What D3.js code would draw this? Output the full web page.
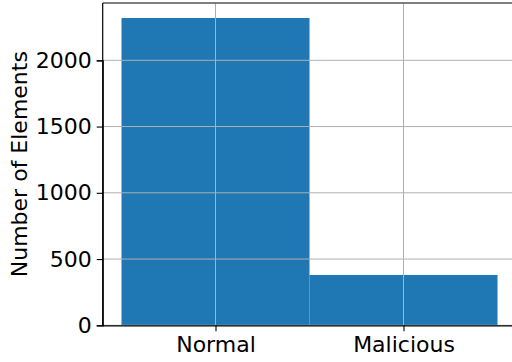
<!DOCTYPE html>
<html><head><meta charset="utf-8">
<script src="https://cdn.jsdelivr.net/npm/d3@7"></script>
<style>body{margin:0;background:#fff}svg{display:block}</style>
</head><body>
<script>
const categories = ["Normal", "Malicious"];
const counts = [2319, 380];
const yTicks = [0, 500, 1000, 1500, 2000];

const W = 512, H = 362;
const mLeft = 102.7, mTop = 3, mBottom = 325.3;
const x = d3.scaleLinear().domain([-0.6, 1.6]).range([mLeft, mLeft + 2.2 * 188]);
const y = d3.scaleLinear().domain([0, 2000]).range([mBottom, 60.3]);
const font = "DejaVu Sans";
const fs = 22;

const svg = d3.select("body").append("svg").attr("width", W).attr("height", H);

// bars
svg.selectAll("rect.bar").data(categories).join("rect")
  .attr("class", "bar")
  .attr("x", (d, i) => x(i - 0.5))
  .attr("width", (d, i) => x(i + 0.5) - x(i - 0.5))
  .attr("y", (d, i) => y(counts[i]))
  .attr("height", (d, i) => y(0) - y(counts[i]))
  .attr("fill", "#1f77b4");

// grid (above bars)
const gx = svg.append("g");
gx.selectAll("line.gy").data(yTicks).join("line")
  .attr("x1", mLeft).attr("x2", x(1.6))
  .attr("y1", d => y(d)).attr("y2", d => y(d))
  .attr("stroke", "#b0b0b0").attr("stroke-width", 1);
gx.selectAll("line.gxl").data(categories).join("line")
  .attr("x1", (d, i) => x(i)).attr("x2", (d, i) => x(i))
  .attr("y1", mTop).attr("y2", mBottom)
  .attr("stroke", "#b0b0b0").attr("stroke-width", 1);

// spines
svg.append("line").attr("x1", mLeft).attr("x2", W).attr("y1", mTop).attr("y2", mTop)
  .attr("stroke", "#555").attr("stroke-width", 1.5);
svg.append("line").attr("x1", mLeft).attr("x2", mLeft).attr("y1", mTop).attr("y2", mBottom)
  .attr("stroke", "#000").attr("stroke-width", 1.2);

// axes
const yAxis = d3.axisLeft(y).tickValues(yTicks).tickFormat(d3.format("d")).tickSize(6).tickPadding(5);
const ya = svg.append("g").attr("transform", `translate(${mLeft},0)`).call(yAxis);
const xAxis = d3.axisBottom(x).tickValues([0, 1]).tickFormat((d) => categories[d]).tickSize(6).tickPadding(5);
const xa = svg.append("g").attr("transform", `translate(0,${mBottom})`).call(xAxis);
[ya, xa].forEach(g => {
  g.select(".domain").attr("stroke", "#000").attr("stroke-width", 1.2);
  g.selectAll(".tick line").attr("stroke", "#000").attr("stroke-width", 1.1);
  g.selectAll("text").attr("font-family", font).attr("font-size", fs).attr("fill", "#000");
});
xa.select(".domain").attr("d", `M${mLeft},0.5H${W}`);

svg.append("text")
  .attr("transform", `translate(27,${(mTop + mBottom) / 2}) rotate(-90)`)
  .attr("text-anchor", "middle")
  .attr("font-family", font).attr("font-size", fs)
  .text("Number of Elements");
</script>
</body></html>
